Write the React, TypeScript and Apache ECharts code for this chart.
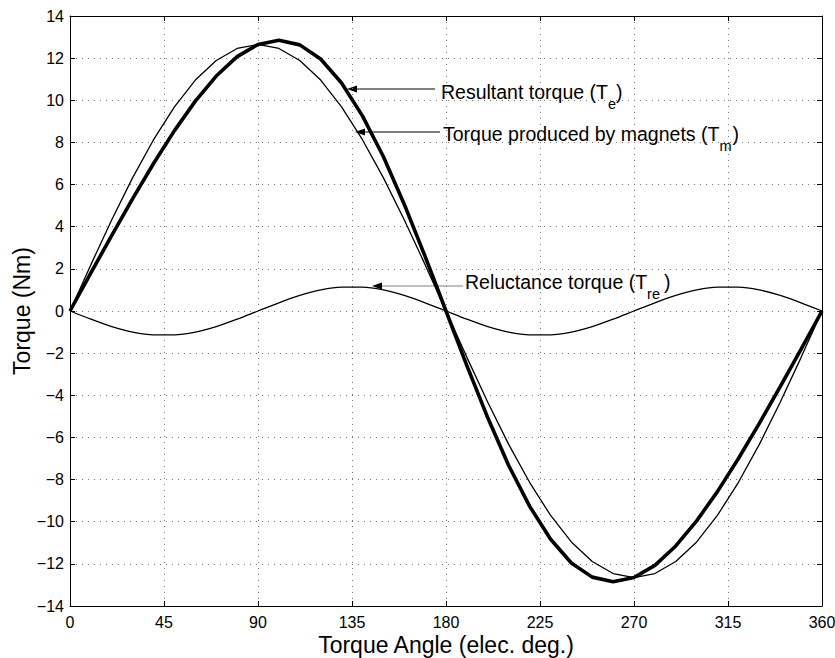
import React, { useEffect, useRef } from "react";
import * as echarts from "echarts";

const angles = [0, 10, 20, 30, 40, 50, 60, 70, 80, 90, 100, 110, 120, 130, 140, 150, 160, 170, 180,
  190, 200, 210, 220, 230, 240, 250, 260, 270, 280, 290, 300, 310, 320, 330, 340, 350, 360];

const resultantTorque = [0, 1.81, 3.59, 5.33, 7.0, 8.56, 9.96, 11.15, 12.07, 12.65, 12.85, 12.63, 11.96, 10.82, 9.26, 7.33, 5.07, 2.59, 0,
  -2.59, -5.07, -7.33, -9.26, -10.82, -11.96, -12.63, -12.85, -12.65, -12.07, -11.15, -9.96, -8.56, -7.0, -5.33, -3.59, -1.81, 0];

const magnetTorque = [0, 2.2, 4.33, 6.33, 8.13, 9.69, 10.96, 11.89, 12.46, 12.65, 12.46, 11.89, 10.96, 9.69, 8.13, 6.33, 4.33, 2.2, 0,
  -2.2, -4.33, -6.33, -8.13, -9.69, -10.96, -11.89, -12.46, -12.65, -12.46, -11.89, -10.96, -9.69, -8.13, -6.33, -4.33, -2.2, 0];

const reluctanceTorque = [0, -0.39, -0.74, -1.0, -1.13, -1.13, -1.0, -0.74, -0.39, 0, 0.39, 0.74, 1.0, 1.13, 1.13, 1.0, 0.74, 0.39, 0,
  -0.39, -0.74, -1.0, -1.13, -1.13, -1.0, -0.74, -0.39, 0, 0.39, 0.74, 1.0, 1.13, 1.13, 1.0, 0.74, 0.39, 0];

const labelMain = ["Resultant torque (T", "Torque produced by magnets (T", "Reluctance torque (T"];
const labelSub = ["e", "m", "re"];

const xTicks = { min: 0, max: 360, interval: 45 };
const yTicks = { min: -14, max: 14, interval: 2 };

const FONT = "'Liberation Sans', Arial, Helvetica, sans-serif";
const MAIN_SIZE = 19.5;
const SUB_SIZE = 14.5;

const pairs = (vals: number[]) => angles.map((a, i) => [a, vals[i]]);

function measure(text: string, size: number) {
  const c = document.createElement("canvas").getContext("2d")!;
  c.font = `${size}px 'Liberation Sans', Arial, sans-serif`;
  return c.measureText(text).width;
}

function annotation(x: number, y: number, main: string, sub: string, closeGap: number) {
  const wm = measure(main, MAIN_SIZE);
  const ws = measure(sub, SUB_SIZE);
  const base = { fill: "#000", fontFamily: FONT, verticalAlign: "middle", align: "left" };
  return [
    { type: "text", x, y, style: { ...base, text: main, fontSize: MAIN_SIZE } },
    { type: "text", x: x + wm, y: y + 12, style: { ...base, text: sub, fontSize: SUB_SIZE } },
    { type: "text", x: x + wm + ws + closeGap, y, style: { ...base, text: ")", fontSize: MAIN_SIZE } },
  ];
}

function arrow(x1: number, x2: number, y: number, lineColor: string) {
  return [
    { type: "line", shape: { x1, y1: y, x2: x2 + 6, y2: y }, style: { stroke: lineColor, lineWidth: 1 } },
    {
      type: "polygon",
      shape: { points: [[x2, y], [x2 + 10, y - 3.5], [x2 + 10, y + 3.5]] },
      style: { fill: "#000" },
    },
  ];
}

export default function App() {
  const ref = useRef<HTMLDivElement>(null);
  useEffect(() => {
    document.body.style.margin = "0";
    const chart = echarts.init(ref.current!, null, { renderer: "svg" });
    const splitLine = { show: true, lineStyle: { color: "#777", type: [1, 5], width: 1 } };
    const axisLine = { show: true, onZero: false, lineStyle: { color: "#000", width: 1 } };
    const axisTick = { show: true, inside: true, length: 5, lineStyle: { color: "#000" } };
    const fmt = (v: number) => String(v).replace("-", "\u2212");
    chart.setOption({
      animation: false,
      backgroundColor: "#fff",
      grid: { left: 70, top: 16, right: 13, bottom: 52, containLabel: false, outerBoundsMode: "none" },
      xAxis: [
        {
          type: "value", ...xTicks, position: "bottom",
          axisLine, axisTick, splitLine,
          axisLabel: { color: "#000", fontSize: 16, fontFamily: FONT, margin: 8, formatter: fmt },
          name: "Torque Angle (elec. deg.)", nameLocation: "middle", nameGap: 27, nameMoveOverlap: false,
          nameTextStyle: { color: "#000", fontSize: 23, fontFamily: FONT },
        },
        {
          type: "value", ...xTicks, position: "top",
          axisLine, axisTick, splitLine: { show: false }, axisLabel: { show: false },
        },
      ],
      yAxis: [
        {
          type: "value", ...yTicks, position: "left",
          axisLine, axisTick, splitLine,
          axisLabel: { color: "#000", fontSize: 16, fontFamily: FONT, margin: 6, formatter: fmt },
          name: "Torque (Nm)", nameLocation: "middle", nameGap: 37, nameMoveOverlap: false,
          nameTextStyle: { color: "#000", fontSize: 23, fontFamily: FONT },
        },
        {
          type: "value", ...yTicks, position: "right",
          axisLine, axisTick, splitLine: { show: false }, axisLabel: { show: false },
        },
      ],
      series: [
        {
          name: "Torque produced by magnets", type: "line", data: pairs(magnetTorque),
          showSymbol: false, lineStyle: { color: "#000", width: 1.3 }, z: 2,
        },
        {
          name: "Reluctance torque", type: "line", data: pairs(reluctanceTorque),
          showSymbol: false, smooth: 0.3, lineStyle: { color: "#000", width: 1.3 }, z: 2,
        },
        {
          name: "Resultant torque", type: "line", data: pairs(resultantTorque),
          showSymbol: false, lineStyle: { color: "#000", width: 3.6 }, z: 3,
        },
      ],
      graphic: [
        ...arrow(435, 347, 89, "#000"),
        ...arrow(440, 355, 132, "#000"),
        ...arrow(463, 372, 286, "#808080"),
        ...annotation(441, 92, labelMain[0], labelSub[0], 0),
        ...annotation(443, 134, labelMain[1], labelSub[1], 1),
        ...annotation(465, 282, labelMain[2], labelSub[2], 4),
      ],
    });
    return () => chart.dispose();
  }, []);
  return <div ref={ref} style={{ width: 835, height: 658 }} />;
}
